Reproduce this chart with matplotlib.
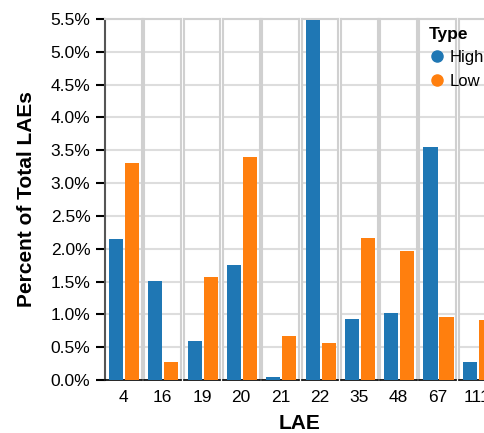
import matplotlib
matplotlib.use("Agg")
from matplotlib import pyplot as plt
from matplotlib.lines import Line2D
from matplotlib.ticker import FuncFormatter

plt.rcParams['font.family'] = ['Liberation Sans', 'DejaVu Sans']

laes = ['4', '16', '19', '20', '21', '22', '35', '48', '67', '111']
types = ['High', 'Low']
high = [2.15, 1.51, 0.60, 1.75, 0.05, 5.48, 0.93, 1.02, 3.55, 0.27]
low = [3.31, 0.27, 1.57, 3.40, 0.67, 0.57, 2.16, 1.96, 0.96, 0.91]
colors = ['#1f77b4', '#ff7f0e']

W, H = 484, 433
fig = plt.figure(figsize=(W / 100, H / 100), dpi=100)

left, step, width = 105, 39.3, 36.7
top, bottom = 19, 380
yticks = [i * 0.5 for i in range(12)]

for i, lae in enumerate(laes):
    ax = fig.add_axes([(left + i * step) / W, (H - bottom) / H, width / W, (bottom - top) / H])
    ax.bar([0, 1], [high[i], low[i]], width=0.88, color=colors, zorder=3)
    ax.set_xlim(-0.69, 1.6)
    ax.set_ylim(0, 5.5)
    ax.set_yticks(yticks)
    ax.grid(axis='y', color='#dddddd', linewidth=1.5, zorder=0)
    for s in ax.spines.values():
        s.set_color('#d0d0d0')
        s.set_linewidth(1.5)
    ax.spines['bottom'].set_color('black')
    ax.spines['bottom'].set_linewidth(1.2)
    ax.set_xticks([0.455])
    ax.set_xticklabels([lae], fontsize=12.5)
    ax.tick_params(axis='x', length=0, pad=7)
    if i == 0:
        ax.spines['left'].set_color('#555555')
        ax.yaxis.set_major_formatter(FuncFormatter(lambda v, p: f'{v:.1f}%'))
        ax.tick_params(axis='y', length=6.5, width=1.5, labelsize=12.5, pad=4)
    else:
        ax.tick_params(axis='y', left=False, labelleft=False)

fig.text(300 / W, 0.009, 'LAE', ha='center', va='baseline', fontsize=15, fontweight='bold')
fig.text(26.5 / W, 1 - 199 / H, 'Percent of Total LAEs', ha='center', va='center',
         rotation=90, fontsize=15, fontweight='bold')

handles = [Line2D([], [], marker='o', linestyle='', markersize=8, color=c) for c in colors]
leg = fig.legend(handles, types, title='Type', loc='upper left', bbox_to_anchor=(429 / W, 1 - 27 / H),
                 frameon=False, borderpad=0, borderaxespad=0, handletextpad=0.25, labelspacing=0.5,
                 handlelength=1.0, fontsize=12, title_fontproperties={'weight': 'bold', 'size': 12.5})
leg._legend_box.align = 'left'

fig.savefig('out.png', dpi=100)
